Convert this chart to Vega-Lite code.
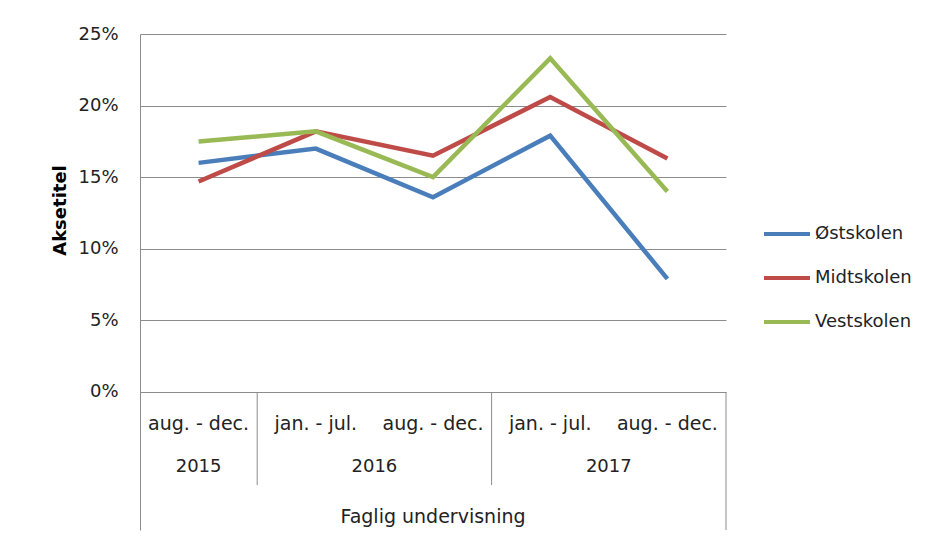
{
  "$schema": "https://vega.github.io/schema/vega-lite/v6.json",
  "width": 586,
  "height": 496,
  "autosize": {"type": "none"},
  "padding": {"left": 140, "top": 34, "right": 217, "bottom": 7},
  "background": "white",
  "config": {"view": {"stroke": null}, "font": "DejaVu Sans", "text": {"font": "DejaVu Sans"}},
  "datasets": {
    "series": [
      {"key": "2015 aug", "school": "Østskolen", "value": 0.160},
      {"key": "2016 jan", "school": "Østskolen", "value": 0.170},
      {"key": "2016 aug", "school": "Østskolen", "value": 0.136},
      {"key": "2017 jan", "school": "Østskolen", "value": 0.179},
      {"key": "2017 aug", "school": "Østskolen", "value": 0.079},
      {"key": "2015 aug", "school": "Midtskolen", "value": 0.147},
      {"key": "2016 jan", "school": "Midtskolen", "value": 0.182},
      {"key": "2016 aug", "school": "Midtskolen", "value": 0.165},
      {"key": "2017 jan", "school": "Midtskolen", "value": 0.206},
      {"key": "2017 aug", "school": "Midtskolen", "value": 0.163},
      {"key": "2015 aug", "school": "Vestskolen", "value": 0.175},
      {"key": "2016 jan", "school": "Vestskolen", "value": 0.182},
      {"key": "2016 aug", "school": "Vestskolen", "value": 0.150},
      {"key": "2017 jan", "school": "Vestskolen", "value": 0.233},
      {"key": "2017 aug", "school": "Vestskolen", "value": 0.140}
    ],
    "periods": [
      {"key": "2015 aug", "period": "aug. - dec."},
      {"key": "2016 jan", "period": "jan. - jul."},
      {"key": "2016 aug", "period": "aug. - dec."},
      {"key": "2017 jan", "period": "jan. - jul."},
      {"key": "2017 aug", "period": "aug. - dec."}
    ]
  },
  "encoding": {
    "x": {
      "field": "key",
      "type": "nominal",
      "scale": {"type": "band", "domain": ["2015 aug", "2016 jan", "2016 aug", "2017 jan", "2017 aug"], "paddingInner": 0, "paddingOuter": 0},
      "axis": null
    }
  },
  "layer": [
    {
      "data": {"name": "series"},
      "mark": {"type": "line", "strokeWidth": 4.5},
      "encoding": {
        "y": {
          "field": "value",
          "type": "quantitative",
          "scale": {"domain": [-0.0964, 0.25], "nice": false, "zero": false},
          "axis": {
            "values": [0, 0.05, 0.1, 0.15, 0.2, 0.25],
            "format": ".0%",
            "title": "Aksetitel",
            "titleFontWeight": "bold",
            "titleFontSize": 18,
            "titleColor": "#000000",
            "titleX": -80,
            "titleY": 176,
            "titleBaseline": "middle",
            "titleAlign": "center",
            "ticks": false,
            "labelPadding": 22,
            "labelFontSize": 18,
            "labelColor": "#222222",
            "gridColor": "#8c8c8c",
            "gridOpacity": 1,
            "domainColor": "#8c8c8c"
          }
        },
        "color": {
          "field": "school",
          "type": "nominal",
          "scale": {"domain": ["Østskolen", "Midtskolen", "Vestskolen"], "range": ["#4A7EBB", "#BE4B48", "#98B954"]},
          "legend": {
            "title": null,
            "orient": "none",
            "legendX": 622,
            "legendY": 175,
            "padding": 0,
            "symbolType": "stroke",
            "symbolStrokeWidth": 4,
            "symbolSize": 2116,
            "rowPadding": 10,
            "labelOffset": 3,
            "labelFontSize": 18,
            "labelColor": "#222222",
            "labelFont": "DejaVu Sans"
          }
        }
      }
    },
    {
      "data": {"values": [{"key": "2016 jan"}, {"key": "2017 jan"}]},
      "mark": {"type": "rule", "color": "#8c8c8c", "strokeWidth": 1},
      "encoding": {
        "x": {"field": "key", "type": "nominal", "bandPosition": 0},
        "y": {"datum": 0},
        "y2": {"datum": -0.065}
      }
    },
    {
      "data": {"values": [{"key": "2017 aug"}]},
      "mark": {"type": "rule", "color": "#8c8c8c", "strokeWidth": 1},
      "encoding": {
        "x": {"field": "key", "type": "nominal", "bandPosition": 1},
        "y": {"datum": 0},
        "y2": {"datum": -0.0964}
      }
    },
    {
      "data": {"name": "periods"},
      "mark": {"type": "text", "fontSize": 19, "color": "#222222", "baseline": "middle", "align": "center"},
      "encoding": {
        "x": {"field": "key", "type": "nominal"},
        "y": {"datum": -0.0224},
        "text": {"field": "period"}
      }
    },
    {
      "data": {"values": [{"key": "2015 aug", "year": "2015"}]},
      "mark": {"type": "text", "fontSize": 18, "color": "#222222", "baseline": "middle", "align": "center"},
      "encoding": {
        "x": {"field": "key", "type": "nominal", "bandPosition": 0.5},
        "y": {"datum": -0.0524},
        "text": {"field": "year"}
      }
    },
    {
      "data": {"values": [{"key": "2016 jan", "year": "2016"}, {"key": "2017 jan", "year": "2017"}]},
      "mark": {"type": "text", "fontSize": 18, "color": "#222222", "baseline": "middle", "align": "center"},
      "encoding": {
        "x": {"field": "key", "type": "nominal", "bandPosition": 1},
        "y": {"datum": -0.0524},
        "text": {"field": "year"}
      }
    },
    {
      "data": {"values": [{"key": "2016 aug", "group": "Faglig undervisning"}]},
      "mark": {"type": "text", "fontSize": 19, "color": "#222222", "baseline": "middle", "align": "center"},
      "encoding": {
        "x": {"field": "key", "type": "nominal", "bandPosition": 0.5},
        "y": {"datum": -0.0873},
        "text": {"field": "group"}
      }
    }
  ]
}
